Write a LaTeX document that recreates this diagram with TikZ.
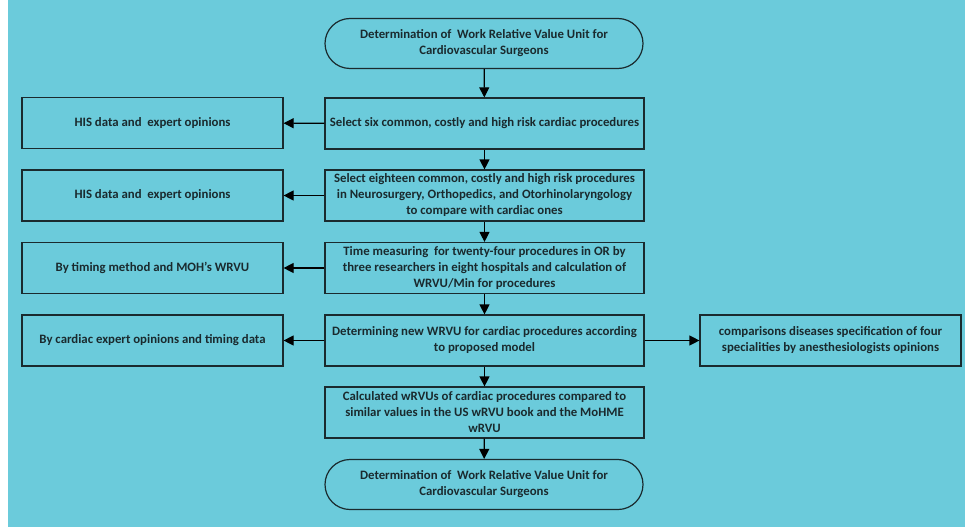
\documentclass[tikz,border=0pt]{standalone}
\usepackage{fontspec}
\setmainfont{Carlito}
\usetikzlibrary{arrows.meta}
\definecolor{bgc}{HTML}{6BCBDB}
\definecolor{linec}{HTML}{1A2A2E}
\begin{document}
\begin{tikzpicture}[x=1pt,y=-1pt,
  every node/.style={font=\bfseries\fontsize{12.8}{16}\selectfont, text=linec, align=center, inner sep=1pt},
  mainbox/.style={draw=linec, line width=1.2pt, rectangle, minimum width=319pt, minimum height=51pt},
  sidebox/.style={draw=linec, line width=1.2pt, rectangle, minimum width=261pt, minimum height=51pt},
  term/.style={draw=linec, line width=1.2pt, rectangle, rounded corners=25pt, minimum width=318pt, minimum height=50pt},
  conn/.style={draw=black, line width=1.2pt, -{Triangle[length=10pt,width=10pt]}}]
\useasboundingbox (0,0) rectangle (965,527);
\fill[white] (0,0) rectangle (965,527);
\fill[bgc] (8,0) rectangle (965,527);

\node[term] (t1) at (484,43.5) {Determination of~ Work Relative Value Unit for\\Cardiovascular Surgeons};
\node[mainbox] (b1) at (484.5,123.5) {Select six common, costly and high risk cardiac procedures};
\node[mainbox] (b2) at (484.5,195.5) {Select eighteen common, costly and high risk procedures\\in Neurosurgery, Orthopedics, and Otorhinolaryngology\\to compare with cardiac ones};
\node[mainbox] (b3) at (484.5,268) {Time measuring~ for twenty-four procedures in OR by\\three researchers in eight hospitals and calculation of\\WRVU/Min for procedures};
\node[mainbox] (b4) at (484.5,340.5) {Determining new WRVU for cardiac procedures according\\to proposed model};
\node[mainbox] (b5) at (484.5,412.5) {Calculated wRVUs of cardiac procedures compared to\\similar values in the US wRVU book and the MoHME\\wRVU};
\node[term] (t2) at (484,484.5) {Determination of~ Work Relative Value Unit for\\Cardiovascular Surgeons};

\node[sidebox] (l1) at (152.5,123) {HIS data and~ expert opinions};
\node[sidebox] (l2) at (152.5,195.5) {HIS data and~ expert opinions};
\node[sidebox] (l3) at (152.5,268) {By timing method and MOH’s WRVU};
\node[sidebox] (l4) at (152.5,340.5) {By cardiac expert opinions and timing data};
\node[sidebox] (r4) at (830.5,340.5) {comparisons diseases specification of four\\specialities by anesthesiologists opinions};

\draw[conn] (t1) -- (b1);
\draw[conn] (b1) -- (b2);
\draw[conn] (b2) -- (b3);
\draw[conn] (b3) -- (b4);
\draw[conn] (b4) -- (b5);
\draw[conn] (b5) -- (t2);
\draw[conn] (b1) -- (l1);
\draw[conn] (b2) -- (l2);
\draw[conn] (b3) -- (l3);
\draw[conn] (b4) -- (l4);
\draw[conn] (b4) -- (r4);
\end{tikzpicture}
\end{document}
